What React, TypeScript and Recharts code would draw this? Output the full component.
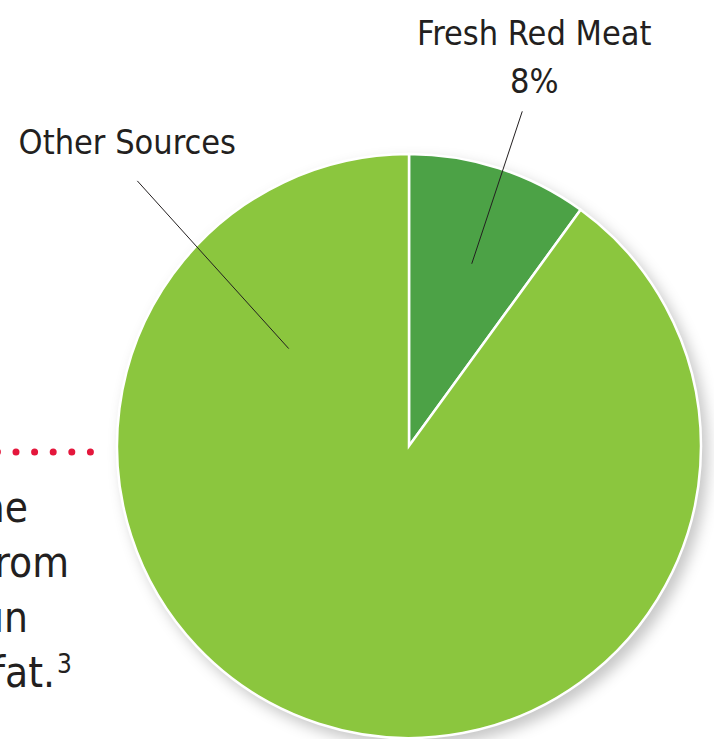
import React from 'react';
import { PieChart, Pie, Cell } from 'recharts';

// slice shares as drawn (the printed label reads 8%)
const sliceNames = ['Fresh Red Meat', 'Other Sources'];
const sliceShares = [10, 90];
const sliceLabels = ['8%', ''];
const sliceColors = ['#4ca246', '#8bc63e'];

// clipped body copy on the left edge of the page
const sideLines = ['he', 'rom', 'un', 'fat.'];

const W = 714;
const H = 739;
const CX = 409;
const CY = 446;
const R = 292;
const FONT = "'DejaVu Sans Condensed', 'DejaVu Sans', sans-serif";
const INK = '#231f20';

// leader line geometry, angles in degrees (counter-clockwise from 3 o'clock), radii as fraction of R
const leaders = [
  { inAngle: 71, inR: 0.66, outAngle: 71.3, outR: 1.21, textDx: 12, textDy: -66 },
  { inAngle: 141, inR: 0.53, outAngle: 135.7, outR: 1.3, textDx: -10, textDy: -27 },
];

const chartData = sliceNames.map((name, i) => ({ name, value: sliceShares[i], pct: sliceLabels[i] }));

const RAD = Math.PI / 180;
const polar = (cx: number, cy: number, r: number, a: number) => ({
  x: cx + Math.cos(-a * RAD) * r,
  y: cy + Math.sin(-a * RAD) * r,
});

const renderLabel = (props: any) => {
  const { cx, cy, midAngle, outerRadius, index } = props;
  const lead = leaders[index];
  const p1 = polar(cx, cy, outerRadius * lead.inR, lead.inAngle ?? midAngle);
  const p2 = polar(cx, cy, outerRadius * lead.outR, lead.outAngle ?? midAngle);
  const tx = p2.x + lead.textDx;
  const ty = p2.y + lead.textDy;
  const pct = chartData[index].pct;
  return (
    <g>
      <line x1={p1.x} y1={p1.y} x2={p2.x} y2={p2.y} stroke={INK} strokeWidth={1} />
      <text x={tx} y={ty} textAnchor="middle" fontFamily={FONT} fontSize={34} fill={INK}>
        {chartData[index].name}
      </text>
      {pct && (
        <text x={tx} y={ty + 48} textAnchor="middle" fontFamily={FONT} fontSize={34} fill={INK}>
          {pct}
        </text>
      )}
    </g>
  );
};

const App: React.FC = () => {
  return (
    <div style={{ position: 'absolute', left: 0, top: 0, width: W, height: H, background: '#fff', overflow: 'hidden' }}>
      <style>{`.recharts-pie { filter: drop-shadow(6px 7px 7px rgba(0,0,0,0.22)); }`}</style>
      <svg width={W} height={H} style={{ position: 'absolute', left: 0, top: 0 }}>
        <line x1={-2.6} y1={452} x2={92} y2={452} stroke="#e4173c" strokeWidth={7}
          strokeLinecap="round" strokeDasharray="0 18.6" />
        {sideLines.map((t, i) => (
          <text key={t} x={[28, 69, 28, 55][i]} y={[522, 577, 632, 687][i]} textAnchor="end"
            fontFamily={FONT} fontSize={42} fill={INK}>
            {t}
          </text>
        ))}
        <text x={57} y={673} fontFamily={FONT} fontSize={26} fill={INK}>3</text>
      </svg>
      <div style={{ position: 'absolute', left: 0, top: 0 }}>
        <PieChart width={W} height={H} margin={{ top: 0, right: 0, bottom: 0, left: 0 }}>
          <Pie
            data={chartData}
            dataKey="value"
            nameKey="name"
            cx={CX}
            cy={CY}
            outerRadius={R}
            startAngle={90}
            endAngle={-270}
            stroke="#fff"
            strokeWidth={2.5}
            label={renderLabel}
            labelLine={false}
            isAnimationActive={false}
          >
            {chartData.map((d, i) => (
              <Cell key={d.name} fill={sliceColors[i]} />
            ))}
          </Pie>
        </PieChart>
      </div>
    </div>
  );
};

export default App;
